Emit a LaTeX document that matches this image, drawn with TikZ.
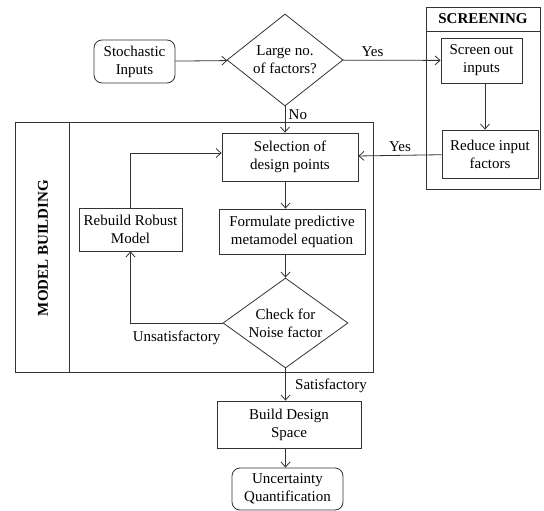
\documentclass[tikz,border=0pt]{standalone}
\usepackage{fontspec}
\setmainfont{Liberation Serif}
\usetikzlibrary{shapes.geometric,arrows.meta}

\begin{document}
\begin{tikzpicture}[x=1pt,y=-1pt,
      every node/.style={font=\fontsize{15}{18}\selectfont},
      line/.style={draw=black!80,line width=0.8pt},
      flow/.style={line,-{Straight Barb[length=5pt,width=9pt]}},
      proc/.style={line,rectangle,align=center,inner sep=0pt},
      term/.style={proc,rounded corners=8pt},
      decision/.style={line,diamond,aspect=1.25,align=center,inner sep=0pt}]
   \useasboundingbox (0,0) rectangle (544,511);

   % screening and model building frames
   \draw [line] (426,7) rectangle (540,189);
   \draw [line] (426,31) -- (540,31);
   \node (screening) at (483,19) {\textbf{SCREENING}};

   \draw [line] (15,122) rectangle (373,372);
   \draw [line] (69,122) -- (69,372);
   \node [rotate=90] (modelbuilding) at (43,248) {\textbf{MODEL BUILDING}};

   % nodes
   \node [term,minimum width=81,minimum height=43] (inputs) at (134.5,61.5)
      {Stochastic\\Inputs};
   \node [decision,minimum width=116,minimum height=92] (large) at (285,60)
      {Large no.\\of factors?};
   \node [proc,minimum width=81,minimum height=45] (screenout) at (481.5,60.5)
      {Screen out\\inputs};
   \node [proc,minimum width=96,minimum height=48] (reduce) at (490,154)
      {Reduce input\\factors};
   \node [proc,minimum width=136,minimum height=48] (select) at (290,157)
      {Selection of\\design points};
   \node [proc,minimum width=103,minimum height=43] (rebuild) at (130.5,229.5)
      {Rebuild Robust\\Model};
   \node [proc,minimum width=146,minimum height=45] (formulate) at (292,231.5)
      {Formulate predictive\\metamodel equation};
   \node [decision,minimum width=125,minimum height=90] (check) at (285.5,323)
      {Check for\\Noise factor};
   \node [proc,minimum width=144,minimum height=47] (build) at (289,424.5)
      {Build Design\\Space};
   \node [term,minimum width=111,minimum height=42] (uq) at (287.5,489)
      {Uncertainty\\Quantification};

   % connectors
   \draw [flow] (inputs) -- (large);
   \draw [flow] (large) -- node [above,pos=0.3] (yes1) {Yes} (screenout);
   \draw [flow] (large) -- node [right,pos=0.3] (no) {No} (large.south |- select.north);
   \draw [flow] (screenout.south -| 485,0) -- (reduce.north -| 485,0);
   \draw [flow] (reduce) -- node [above] (yes2) {Yes} (select);
   \draw [flow] (check.north |- select.south) -- (check.north |- formulate.north);
   \draw [flow] (check.north |- formulate.south) -- (check);
   \draw [flow] (check) -| node [below,pos=0.25,yshift=-4] (unsat) {Unsatisfactory} (rebuild);
   \draw [flow] (rebuild) |- (select.west |- 0,153);
   \draw [flow] (check) -- node [right,pos=0.55,xshift=6] (sat) {Satisfactory} (check.south |- build.north);
   \draw [flow] (check.south |- build.south) -- (check.south |- uq.north);
\end{tikzpicture}
\end{document}
